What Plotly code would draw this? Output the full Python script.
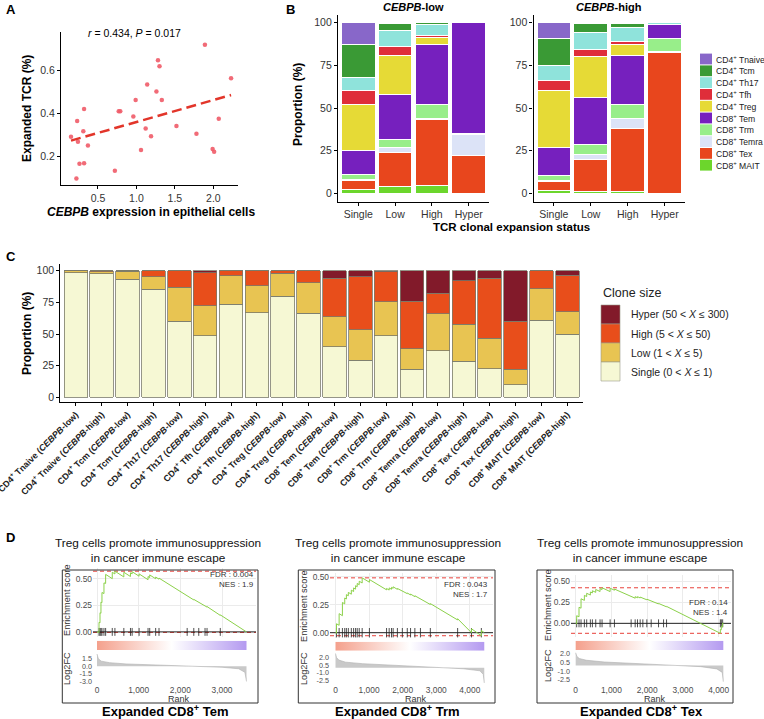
import plotly.graph_objects as go
import numpy as np

W, H = 764, 719
FONT = "Liberation Sans, Arial, sans-serif"
GREY = "#4D4D4D"

# ---------------- Panel A data ----------------
cebpb_expression = [0.15, 0.23, 0.24, 0.22, 0.26, 0.32, 0.31, 0.32, 0.37, 0.72, 0.77, 0.79, 0.96, 0.99,
                    1.06, 1.12, 1.14, 1.19, 1.26, 1.28, 1.30, 1.33, 1.52, 1.78, 1.89, 1.99, 2.01, 2.07, 2.23]
expanded_tcr = [0.29, 0.364, 0.267, 0.095, 0.164, 0.42, 0.316, 0.167, 0.25, 0.132, 0.41, 0.41, 0.385, 0.462,
                0.228, 0.329, 0.535, 0.293, 0.502, 0.648, 0.62, 0.462, 0.341, 0.305, 0.72, 0.233, 0.22, 0.375, 0.564]
corr_label = "<i>r</i> = 0.434, <i>P</i> = 0.017"

# ---------------- Panel B data ----------------
cell_types = ["CD4<sup>+</sup> Tnaive", "CD4<sup>+</sup> Tcm", "CD4<sup>+</sup> Th17", "CD4<sup>+</sup> Tfh",
              "CD4<sup>+</sup> Treg", "CD8<sup>+</sup> Tem", "CD8<sup>+</sup> Trm", "CD8<sup>+</sup> Temra",
              "CD8<sup>+</sup> Tex", "CD8<sup>+</sup> MAIT"]
cell_colors = ["#8867C9", "#3A9A35", "#8FE3DB", "#DF2E3A", "#E6DA36", "#7620BE", "#98EE8A", "#DCE3F7",
               "#E8461D", "#6CD62C"]
expansion_status = ["Single", "Low", "High", "Hyper"]
# rows follow cell_types, columns follow expansion_status (%)
cebpb_low_props = [
    [12.7, 0.4, 0.0, 0.0],
    [19.7, 3.9, 0.8, 0.0],
    [7.1, 9.4, 6.8, 0.0],
    [8.2, 5.8, 0.8, 0.0],
    [27.1, 22.7, 4.3, 0.0],
    [14.1, 26.0, 35.2, 64.8],
    [2.7, 5.0, 8.1, 0.6],
    [1.0, 2.6, 0.6, 12.7],
    [5.1, 20.3, 38.9, 21.9],
    [2.3, 3.9, 4.5, 0.0],
]
cebpb_high_props = [
    [9.0, 0.4, 0.4, 0.0],
    [15.8, 5.1, 2.3, 0.0],
    [9.2, 10.5, 8.2, 1.2],
    [5.8, 3.9, 1.6, 0.0],
    [33.2, 23.8, 7.0, 0.0],
    [16.3, 27.8, 28.6, 8.0],
    [2.9, 5.8, 8.0, 7.8],
    [0.8, 2.6, 5.8, 0.4],
    [5.4, 19.1, 37.3, 82.4],
    [1.6, 1.0, 0.8, 0.2],
]

# ---------------- Panel C data ----------------
c_groups = ["low", "high"]
clone_names = ["Hyper (50 < <i>X</i> ≤ 300)", "High (5 < <i>X</i> ≤ 50)", "Low (1 < <i>X</i> ≤ 5)", "Single (0 < <i>X</i> ≤ 1)"]
clone_colors = ["#821A2A", "#E84E1B", "#E8C452", "#F6F8D4"]
clone_single = [98.4, 97.4, 93.2, 85.3, 60.1, 48.8, 73.5, 66.9, 79.8, 66.4, 40.1, 29.3, 48.8, 22.2, 36.9, 28.5, 22.7, 9.9, 60.8, 49.8]
clone_low = [1.4, 1.6, 6.3, 10.0, 26.8, 23.6, 22.6, 21.3, 18.1, 24.1, 23.7, 24.2, 26.8, 16.3, 29.2, 29.2, 23.9, 12.3, 25.0, 17.9]
clone_high = [0.2, 1.0, 0.5, 4.7, 13.1, 25.8, 3.9, 11.8, 2.1, 9.5, 30.2, 41.8, 23.4, 37.3, 16.0, 34.2, 47.4, 37.9, 14.2, 28.6]
clone_hyper = [0.0, 0.0, 0.0, 0.0, 0.0, 1.8, 0.0, 0.0, 0.0, 0.0, 6.0, 4.7, 1.0, 24.2, 17.9, 8.1, 6.0, 39.9, 0.0, 3.7]

# ---------------- Panel D data ----------------
gsea_title = "Treg cells promote immunosuppression<br>in cancer immune escape"
gsea_names = ["Expanded CD8<sup>+</sup> Tem", "Expanded CD8<sup>+</sup> Trm", "Expanded CD8<sup>+</sup> Tex"]
gsea_fdr = ["0.004", "0.043", "0.14"]
gsea_nes = ["1.9", "1.7", "1.4"]
gsea_n_genes = [3588, 4430, 4130]

d1_hits = [48, 72, 95, 119, 167, 207, 366, 430, 644, 803, 843, 1010, 1225, 1265, 1408, 1488, 2164, 2323, 2442, 2593, 2641, 2959]
d1_curve_rank = [0, 48, 48, 72, 72, 95, 95, 119, 119, 167, 167, 207, 207, 366, 366, 430, 430, 644, 644, 803, 803, 843, 843,
                 1010, 1010, 1225, 1225, 1265, 1265, 1408, 1408, 1488, 1488, 2164, 2164, 2323, 2323, 2442, 2442,
                 2593, 2593, 2641, 2641, 2959, 2959, 3588]
d1_curve_es = [0.0, -0.005, 0.09, 0.085, 0.18, 0.175, 0.28, 0.275, 0.37, 0.36, 0.46, 0.455, 0.54, 0.50, 0.56, 0.544, 0.57,
               0.516, 0.56, 0.52, 0.555, 0.545, 0.565, 0.523, 0.545, 0.49, 0.52, 0.51, 0.535, 0.499, 0.515, 0.495, 0.505,
               0.333, 0.34, 0.30, 0.305, 0.275, 0.28, 0.24, 0.245, 0.233, 0.238, 0.155, 0.16, 0.0]
d1_fc_rank = [0, 30, 100, 300, 700, 1500, 2500, 3000, 3400, 3550, 3588]
d1_fc_val = [2.4, 1.5, 1.0, 0.7, 0.45, 0.2, 0.0, -0.2, -0.5, -1.2, -3.0]

d2_hits = [29, 108, 206, 275, 324, 382, 471, 539, 598, 647, 706, 794, 1010, 1520, 1598, 1667, 1716, 1843, 1990, 2137,
           2235, 2363, 2529, 2824, 3637, 4049, 4343]
d2_curve_rank = [0, 29, 29, 108, 108, 206, 206, 275, 275, 324, 324, 382, 382, 471, 471, 539, 539, 598, 598, 647, 647,
                 706, 706, 794, 794, 1010, 1010, 1520, 1520, 1598, 1598, 1667, 1667, 1716, 1716, 1843, 1843, 1990, 1990,
                 2137, 2137, 2235, 2235, 2363, 2363, 2529, 2529, 2824, 2824, 3637, 3637, 4049, 4049, 4343, 4343, 4430]
d2_curve_es = [0.0, -0.005, 0.08, 0.066, 0.17, 0.152, 0.27, 0.258, 0.31, 0.301, 0.34, 0.33, 0.36, 0.344, 0.38, 0.368, 0.40,
               0.389, 0.42, 0.411, 0.44, 0.429, 0.46, 0.444, 0.49, 0.451, 0.475, 0.383, 0.395, 0.381, 0.40, 0.388, 0.405,
               0.396, 0.41, 0.387, 0.395, 0.369, 0.375, 0.349, 0.355, 0.337, 0.345, 0.322, 0.33, 0.30, 0.305, 0.252, 0.26,
               0.114, 0.125, 0.0, 0.035, -0.027, 0.02, 0.0]
d2_fc_rank = [0, 30, 100, 300, 800, 1800, 3000, 3800, 4300, 4400, 4430]
d2_fc_val = [2.8, 2.0, 1.5, 1.1, 0.8, 0.45, 0.1, -0.2, -0.6, -1.3, -3.0]

d3_hits = [28, 93, 150, 243, 308, 411, 467, 561, 682, 738, 963, 1084, 1551, 1664, 1729, 1804, 1879, 1991, 2112, 2318,
           2458, 2542, 4047, 4075, 4112]
d3_curve_rank = [0, 28, 28, 93, 93, 150, 150, 243, 243, 308, 308, 411, 411, 467, 467, 561, 561, 682, 682, 738, 738,
                 963, 963, 1084, 1084, 1551, 1551, 1664, 1664, 1729, 1729, 1804, 1804, 1879, 1879, 1991, 1991, 2112, 2112,
                 2318, 2318, 2458, 2458, 2542, 2542, 4047, 4047, 4075, 4075, 4112, 4112, 4130]
d3_curve_es = [0.0, -0.006, 0.09, 0.077, 0.19, 0.179, 0.29, 0.271, 0.33, 0.317, 0.355, 0.334, 0.37, 0.359, 0.385, 0.366,
               0.40, 0.376, 0.41, 0.399, 0.42, 0.375, 0.415, 0.391, 0.405, 0.312, 0.32, 0.297, 0.315, 0.302, 0.315, 0.30,
               0.31, 0.295, 0.30, 0.278, 0.285, 0.261, 0.27, 0.229, 0.235, 0.207, 0.212, 0.195, 0.20, -0.118, -0.07,
               -0.076, -0.035, -0.042, 0.004, 0.0]
d3_fc_rank = [0, 30, 100, 300, 800, 1800, 2800, 3500, 3950, 4100, 4130]
d3_fc_val = [2.2, 1.6, 1.2, 0.9, 0.6, 0.3, 0.0, -0.2, -0.6, -1.2, -2.8]


# ---------------- helpers ----------------
def dx(a, b):
    return [a / W, b / W]


def dy(top, bottom):
    return [1 - bottom / H, 1 - top / H]


def ann(text, x, y, size, color="black", xanchor="center", yanchor="middle", angle=0):
    return dict(text=text, x=x / W, y=1 - y / H, xref="paper", yref="paper", showarrow=False,
                font=dict(size=size, color=color, family=FONT), xanchor=xanchor, yanchor=yanchor,
                textangle=angle)


def axref(n):
    return ("x" if n == 1 else f"x{n}"), ("y" if n == 1 else f"y{n}")


def axkey(n):
    return ("xaxis" if n == 1 else f"xaxis{n}"), ("yaxis" if n == 1 else f"yaxis{n}")


base_axis = dict(showgrid=False, zeroline=False, showline=True, linecolor="black", linewidth=1.2,
                 ticks="outside", ticklen=3, tickwidth=1, tickcolor="black", automargin=False,
                 tickfont=dict(size=10.5, color="#333333", family=FONT), fixedrange=True)

fig = go.Figure()
layout = {}
annotations = []
shapes = []

# ---------------- Panel A ----------------
xa, ya = axref(1)
fig.add_trace(go.Scatter(x=cebpb_expression, y=expanded_tcr, mode="markers", xaxis=xa, yaxis=ya,
                         marker=dict(size=4.5, color="#EF5B68", opacity=0.9), showlegend=False))
slope, intercept = np.polyfit(cebpb_expression, expanded_tcr, 1)
x_line = np.array([min(cebpb_expression), max(cebpb_expression)])
fig.add_trace(go.Scatter(x=x_line, y=slope * x_line + intercept, mode="lines", xaxis=xa, yaxis=ya,
                         line=dict(color="#E2352A", width=2.5, dash="10px,5px"), showlegend=False))
kx, ky = axkey(1)
layout[kx] = dict(base_axis, domain=dx(61, 238), range=[0.02, 2.32], anchor=ya,
                  tickvals=[0.5, 1.0, 1.5, 2.0], ticktext=["0.5", "1.0", "1.5", "2.0"])
layout[ky] = dict(base_axis, domain=dy(32, 185), range=[0.065, 0.78], anchor=xa,
                  tickvals=[0.2, 0.4, 0.6], ticktext=["0.2", "0.4", "0.6"])
annotations.append(ann("<b>A</b>", 4, 9, 13, xanchor="left"))
annotations.append(ann(corr_label, 134, 33, 10.5))
annotations.append(ann("<b>Expanded TCR (%)</b>", 27, 109, 12, angle=-90))
annotations.append(ann("<b><i>CEBPB</i> expression in epithelial cells</b>", 151, 212, 12))

# ---------------- Panel B ----------------
for n, props, x0, x1, title in [(2, cebpb_low_props, 338, 489, "<b><i>CEBPB</i>-low</b>"),
                                (3, cebpb_high_props, 533.5, 685, "<b><i>CEBPB</i>-high</b>")]:
    xa, ya = axref(n)
    for i in reversed(range(len(cell_types))):
        fig.add_trace(go.Bar(x=expansion_status, y=props[i], xaxis=xa, yaxis=ya, name=cell_types[i],
                             marker=dict(color=cell_colors[i], line=dict(color="white", width=1)),
                             showlegend=False))
    kx, ky = axkey(n)
    layout[kx] = dict(base_axis, domain=dx(x0, x1), anchor=ya, type="category", range=[-0.55, 3.55])
    layout[ky] = dict(base_axis, domain=dy(15, 201.7), range=[-4.9, 104.5], anchor=xa,
                      tickvals=[0, 25, 50, 75, 100])
    annotations.append(ann(title, (x0 + x1) / 2, 7, 11))
annotations.append(ann("<b>B</b>", 284, 9, 13, xanchor="left"))
annotations.append(ann("<b>Proportion (%)</b>", 298, 105, 12, angle=-90))
annotations.append(ann("<b>TCR clonal expansion status</b>", 511, 227, 11.5))
for i, (lab, col) in enumerate(zip(cell_types, cell_colors)):
    yc = 59 + i * 11.8
    shapes.append(dict(type="rect", xref="paper", yref="paper", x0=700 / W, x1=712 / W,
                       y0=1 - (yc + 5.4) / H, y1=1 - (yc - 5.4) / H, fillcolor=col, line=dict(width=0)))
    annotations.append(ann(lab, 713.5, yc, 8.6, color="#222222", xanchor="left"))

# ---------------- Panel C ----------------
c_categories = []
for ct in cell_types:
    for g in c_groups:
        c_categories.append(f"<b>{ct} (<i>CEBPB</i>-{g})</b>")
xa, ya = axref(4)
for vals, name, col in zip([clone_single, clone_low, clone_high, clone_hyper], clone_names[::-1], clone_colors[::-1]):
    fig.add_trace(go.Bar(x=c_categories, y=vals, xaxis=xa, yaxis=ya, name=name,
                         marker=dict(color=col, line=dict(color="#7A7A6A", width=0.8)), showlegend=False))
kx, ky = axkey(4)
layout[kx] = dict(base_axis, domain=dx(60.3, 582.8), anchor=ya, type="category", range=[-0.6, 19.6],
                  tickangle=-45, tickfont=dict(size=8.9, color="#222222", family=FONT))
layout[ky] = dict(base_axis, domain=dy(264.3, 402), range=[-3.55, 105.05], anchor=xa,
                  tickvals=[0, 25, 50, 75, 100])
annotations.append(ann("<b>C</b>", 4, 257, 13, xanchor="left"))
annotations.append(ann("<b>Proportion (%)</b>", 27, 334, 12, angle=-90))
annotations.append(ann("Clone size", 601, 293, 12.5, color="#222222", xanchor="left"))
for i, (lab, col) in enumerate(zip(clone_names, clone_colors)):
    top = 305 + i * 19
    shapes.append(dict(type="rect", xref="paper", yref="paper", x0=601 / W, x1=620 / W,
                       y0=1 - (top + 19) / H, y1=1 - top / H, fillcolor=col, line=dict(color="#9A9A8A", width=0.6)))
    annotations.append(ann(lab, 629, top + 9.5, 10.5, color="#222222", xanchor="left"))

# ---------------- Panel D ----------------
annotations.append(ann("<b>D</b>", 4, 537, 13, xanchor="left"))

gsea_specs = [
    dict(ids=(5, 6, 7), box=(62.3, 258), xdom=(93, 256), x_range=[-96, 3816],
         es_dom=(568, 636.7), es_range=[-0.045, 0.6], bar_dom=(640.7, 650), fc_dom=(652, 684),
         fc_range=[-3.5, 2.8], fc_ticks=[1.5, 0.0, -1.5, -3.0], fc_text=["1.5", "0.0", "-1.5", "-3.0"],
         rank_ticks=[0, 1000, 2000, 3000], hits=d1_hits, cr=d1_curve_rank, ce=d1_curve_es,
         fr=d1_fc_rank, fv=d1_fc_val, half=0.037, title_x=158, name_x=165, ylab_x=67,
         es_lab_y=600, fc_lab_y=669, stat_x=256, stat_y=575),
    dict(ids=(8, 9, 10), box=(298.3, 495), xdom=(330, 493), x_range=[-164, 4690],
         es_dom=(572.7, 638.3), es_range=[-0.05, 0.536], bar_dom=(641.7, 650.7), fc_dom=(653, 684),
         fc_range=[-3.2, 2.9], fc_ticks=[2.0, 0.5, -1.0, -2.5], fc_text=["2.0", "0.5", "-1.0", "-2.5"],
         rank_ticks=[0, 1000, 2000, 3000, 4000], hits=d2_hits, cr=d2_curve_rank, ce=d2_curve_es,
         fr=d2_fc_rank, fv=d2_fc_val, half=0.042, title_x=398, name_x=397, ylab_x=304,
         es_lab_y=606, fc_lab_y=669, stat_x=490, stat_y=585),
    dict(ids=(11, 12, 13), box=(537, 733), xdom=(571, 731), x_range=[-131, 4345],
         es_dom=(575, 636.7), es_range=[-0.158, 0.571], bar_dom=(640.7, 650), fc_dom=(651, 684),
         fc_range=[-3.2, 2.5], fc_ticks=[2.0, 0.5, -1.0, -2.5], fc_text=["2.0", "0.5", "-1.0", "-2.5"],
         rank_ticks=[0, 1000, 2000, 3000, 4000], hits=d3_hits, cr=d3_curve_rank, ce=d3_curve_es,
         fr=d3_fc_rank, fv=d3_fc_val, half=0.047, title_x=640, name_x=641, ylab_x=548,
         es_lab_y=605, fc_lab_y=666, stat_x=730, stat_y=603),
]

small_tick = dict(size=8.4, color=GREY, family=FONT)
fc_tick = dict(size=7.2, color=GREY, family=FONT)
for k, s in enumerate(gsea_specs):
    ies, ibar, ifc = s["ids"]
    xe, ye = axref(ies)
    xb, yb = axref(ibar)
    xf, yf = axref(ifc)
    xr = s["x_range"]
    n_rank = gsea_n_genes[k]
    es_max = max(s["ce"])
    es_min = min(s["ce"])
    # red dashed max / min lines
    for v in [es_max, es_min]:
        fig.add_trace(go.Scatter(x=xr, y=[v, v], mode="lines", xaxis=xe, yaxis=ye, showlegend=False,
                                 line=dict(color="#E8403A", width=1, dash="4px,3px")))
    # zero line
    fig.add_trace(go.Scatter(x=xr, y=[0, 0], mode="lines", xaxis=xe, yaxis=ye, showlegend=False,
                             line=dict(color="#222222", width=1)))
    # hit ticks
    hx, hy = [], []
    for r in s["hits"]:
        hx += [r, r, None]
        hy += [-s["half"], s["half"], None]
    fig.add_trace(go.Scatter(x=hx, y=hy, mode="lines", xaxis=xe, yaxis=ye, showlegend=False,
                             line=dict(color="#222222", width=0.8)))
    # running ES curve
    fig.add_trace(go.Scatter(x=s["cr"], y=s["ce"], mode="lines", xaxis=xe, yaxis=ye, showlegend=False,
                             line=dict(color="#8CD14A", width=1)))
    # rank colour bar
    fig.add_trace(go.Scatter(x=[0, n_rank, n_rank, 0, 0], y=[0, 0, 1, 1, 0], mode="lines", fill="toself",
                             xaxis=xb, yaxis=yb, showlegend=False, line=dict(width=0),
                             fillgradient=dict(type="horizontal",
                                               colorscale=[[0, "#F4A08C"], [0.5, "#FFFFFF"], [1, "#B49AF0"]])))
    # log2FC profile
    fig.add_trace(go.Scatter(x=s["fr"], y=s["fv"], mode="lines", fill="tozeroy", xaxis=xf, yaxis=yf,
                             showlegend=False, fillcolor="#C9C9C9", line=dict(color="#AFAFAF", width=0.6)))

    ke_x, ke_y = axkey(ies)
    kb_x, kb_y = axkey(ibar)
    kf_x, kf_y = axkey(ifc)
    layout[ke_x] = dict(domain=dx(*s["xdom"]), range=xr, anchor=ye, showticklabels=False, ticks="",
                        showgrid=True, gridcolor="#EBEBEB", gridwidth=0.8, zeroline=False, showline=False,
                        tickvals=s["rank_ticks"], fixedrange=True, automargin=False)
    layout[ke_y] = dict(domain=dy(*s["es_dom"]), range=s["es_range"], anchor=xe, showgrid=True,
                        gridcolor="#EBEBEB", gridwidth=0.8, zeroline=False, showline=False, ticks="",
                        tickvals=[0, 0.25, 0.5], ticktext=["0.00", "0.25", "0.50"], tickfont=small_tick,
                        fixedrange=True, automargin=False)
    layout[kb_x] = dict(domain=dx(*s["xdom"]), range=xr, anchor=yb, visible=False, fixedrange=True,
                        automargin=False)
    layout[kb_y] = dict(domain=dy(*s["bar_dom"]), range=[0, 1], anchor=xb, visible=False, fixedrange=True,
                        automargin=False)
    layout[kf_x] = dict(domain=dx(*s["xdom"]), range=xr, anchor=yf, showgrid=False, zeroline=False,
                        showline=False, ticks="", tickvals=s["rank_ticks"], tickformat=",d",
                        tickfont=small_tick, fixedrange=True, automargin=False)
    layout[kf_y] = dict(domain=dy(*s["fc_dom"]), range=s["fc_range"], anchor=xf, showgrid=False,
                        zeroline=False, showline=False, ticks="", tickvals=s["fc_ticks"],
                        ticktext=s["fc_text"], tickfont=fc_tick, fixedrange=True, automargin=False)

    bx0, bx1 = s["box"]
    shapes.append(dict(type="rect", xref="paper", yref="paper", x0=bx0 / W, x1=bx1 / W,
                       y0=1 - 703 / H, y1=1 - 570 / H, line=dict(color="#333333", width=1),
                       fillcolor="rgba(0,0,0,0)"))
    annotations.append(ann(gsea_title, s["title_x"], 550, 11.8, color="#111111"))
    annotations.append(ann(f"<b>{gsea_names[k]}</b>", s["name_x"], 711, 13))
    annotations.append(ann("Enrichment score", s["ylab_x"], s["es_lab_y"], 9.2, color="#333333", angle=-90))
    annotations.append(ann("Log2FC", s["ylab_x"], s["fc_lab_y"], 9.2, color="#333333", angle=-90))
    annotations.append(ann("Rank", (s["xdom"][0] + s["xdom"][1]) / 2 + 4, 698.5, 9, color="#333333"))
    annotations.append(ann(f"FDR : {gsea_fdr[k]}", s["stat_x"], s["stat_y"] - 0.5, 8.0, color="#333333",
                           xanchor="right"))
    annotations.append(ann(f"NES : {gsea_nes[k]}", s["stat_x"], s["stat_y"] + 9, 8.0, color="#333333",
                           xanchor="right"))

fig.update_layout(
    width=W, height=H, autosize=False,
    margin=dict(l=0, r=0, t=0, b=0, pad=0),
    paper_bgcolor="white", plot_bgcolor="white",
    barmode="stack", bargap=0.09,
    font=dict(family=FONT, color="#222222"),
    showlegend=False,
    annotations=annotations, shapes=shapes,
    **layout,
)
fig.write_html("out.html", include_plotlyjs=True, config={"displayModeBar": False})
